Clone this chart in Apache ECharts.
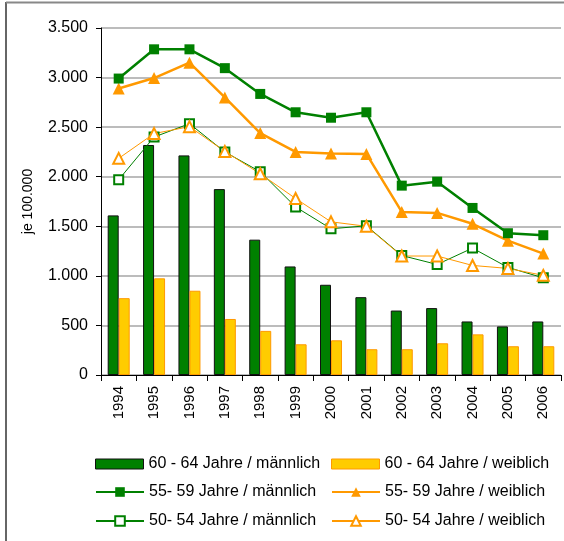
<!DOCTYPE html>
<html>
<head>
<meta charset="utf-8">
<script src="https://cdn.jsdelivr.net/npm/echarts@6/dist/echarts.min.js"></script>
<style>
  html, body { margin: 0; padding: 0; background: #fff; }
  #chart { width: 564px; height: 541px; }
</style>
</head>
<body>
<div id="chart"></div>
<script>
// Jahre (Kategorien)
var years = ['1994', '1995', '1996', '1997', '1998', '1999', '2000', '2001', '2002', '2003', '2004', '2005', '2006']

// je 100.000
var m6064 = [1610, 2320, 2215, 1875, 1365, 1095, 910, 785, 650, 675, 540, 490, 540]
var w6064 = [775, 975, 850, 565, 445, 310, 350, 260, 260, 320, 410, 290, 290]
var m5559 = [2990, 3285, 3285, 3095, 2835, 2650, 2595, 2650, 1910, 1950, 1685, 1430, 1410]
var w5559 = [2890, 2995, 3150, 2800, 2440, 2250, 2235, 2230, 1645, 1635, 1525, 1355, 1225]
var m5054 = [1970, 2400, 2535, 2250, 2050, 1695, 1475, 1505, 1205, 1115, 1280, 1085, 980]
var w5054 = [2185, 2435, 2505, 2255, 2030, 1780, 1545, 1500, 1200, 1200, 1105, 1075, 1005]

var seriesNames = [
  '60 - 64 Jahre / männlich',
  '60 - 64 Jahre / weiblich',
  '55- 59 Jahre / männlich',
  '55- 59 Jahre / weiblich',
  '50- 54 Jahre / männlich',
  '50- 54 Jahre / weiblich'
]

var font = 'Liberation Sans, Arial, sans-serif'

// Tausenderpunkt
function fmt(v) {
  return String(v).replace(/\B(?=(\d{3})+(?!\d))/g, '.')
}

function legendAt(name, left, top, h, barBorder) {
  var l = {
    data: [name],
    left: left,
    top: top,
    padding: 0,
    itemWidth: 48,
    itemHeight: h,
    selectedMode: false,
    textStyle: { fontFamily: font, fontSize: 16, color: '#000' }
  }
  if (barBorder) {
    l.icon = 'rect'
    l.itemStyle = { borderColor: barBorder, borderWidth: 1 }
  }
  return l
}

var myChart = echarts.init(document.getElementById('chart'))
var option = {
  animation: false,
  backgroundColor: '#fff',
  grid: { left: 101, right: 3, top: 28, bottom: 166, containLabel: false },
  legend: [
    legendAt(seriesNames[0], 95, 456, 10, '#111'),
    legendAt(seriesNames[1], 331, 456, 10, '#ff9900'),
    legendAt(seriesNames[2], 95, 484, 12),
    legendAt(seriesNames[3], 331, 484, 12),
    legendAt(seriesNames[4], 95, 513, 12),
    legendAt(seriesNames[5], 331, 513, 12)
  ],
  graphic: [
    { type: 'line', shape: { x1: 6, y1: 2, x2: 6, y2: 541 }, style: { stroke: '#333', lineWidth: 1.5 } },
    { type: 'line', shape: { x1: 6, y1: 2.5, x2: 564, y2: 2.5 }, style: { stroke: '#888', lineWidth: 2 } }
  ],
  xAxis: {
    type: 'category',
    data: years,
    axisLine: { lineStyle: { color: '#000', width: 1 } },
    axisTick: { show: true, length: 6, lineStyle: { color: '#000' } },
    axisLabel: { rotate: 90, margin: 11, color: '#000', fontFamily: font, fontSize: 15 }
  },
  yAxis: {
    type: 'value',
    min: 0,
    max: 3500,
    interval: 500,
    name: 'je 100.000',
    nameLocation: 'middle',
    nameGap: 66,
    nameTextStyle: { color: '#000', fontFamily: font, fontSize: 14 },
    axisLine: { show: true, lineStyle: { color: '#000', width: 1 } },
    axisTick: { show: true, length: 5, lineStyle: { color: '#000' } },
    axisLabel: { margin: 13, color: '#000', fontFamily: font, fontSize: 16, formatter: fmt },
    splitLine: { lineStyle: { color: '#a6a6a6', width: 1.5 } }
  },
  series: [
    {
      name: seriesNames[0],
      type: 'bar',
      data: m6064,
      barWidth: 11,
      barGap: '0%',
      itemStyle: { color: '#008000', borderColor: '#111', borderWidth: 1 }
    },
    {
      name: seriesNames[1],
      type: 'bar',
      data: w6064,
      barWidth: 11,
      barGap: '0%',
      itemStyle: { color: '#ffcc00', borderColor: '#ff9900', borderWidth: 1 }
    },
    {
      name: seriesNames[4],
      type: 'line',
      data: m5054,
      symbol: 'emptyRect',
      symbolSize: 9,
      lineStyle: { color: '#008000', width: 1 },
      itemStyle: { color: '#008000', borderWidth: 2 }
    },
    {
      name: seriesNames[5],
      type: 'line',
      data: w5054,
      symbol: 'emptyTriangle',
      symbolSize: 11,
      lineStyle: { color: '#ff9900', width: 1 },
      itemStyle: { color: '#ff9900', borderWidth: 2 }
    },
    {
      name: seriesNames[3],
      type: 'line',
      data: w5559,
      symbol: 'triangle',
      symbolSize: 12,
      lineStyle: { color: '#ff9900', width: 2.5 },
      itemStyle: { color: '#ff9900', borderWidth: 0 }
    },
    {
      name: seriesNames[2],
      type: 'line',
      data: m5559,
      symbol: 'rect',
      symbolSize: 10,
      lineStyle: { color: '#008000', width: 2.5 },
      itemStyle: { color: '#008000', borderWidth: 0 }
    }
  ]
}
myChart.setOption(option)
window.addEventListener('resize', () => {
  myChart.resize()
})
</script>
</body>
</html>
